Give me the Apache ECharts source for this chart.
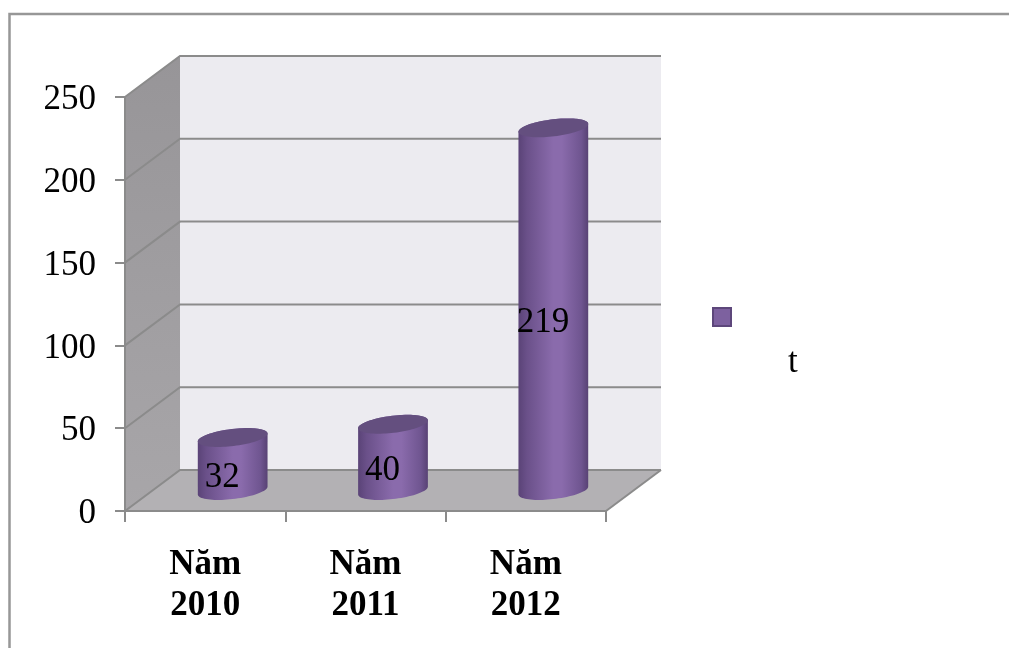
<!DOCTYPE html>
<html><head><meta charset="utf-8">
<style>html,body{margin:0;padding:0;background:#fff}#c{width:1009px;height:648px}</style>
<script src="https://cdn.jsdelivr.net/npm/echarts@6/dist/echarts.min.js"></script>
</head><body><div id="c"></div>
<script>
const categories = ['Năm\n2010', 'Năm\n2011', 'Năm\n2012'];
const values = [32, 40, 219];
const labels = ['32', '40', '219'];
const yTicks = [0, 50, 100, 150, 200, 250];
const seriesName = 't';

const DX = 55, DY = -41;          // 3D depth of the box
const FONT = '"Liberation Serif","Times New Roman",serif';
const LINE = '#8b8b8b';

function ell(cx, cy, a, b, r, t0, t1, n) {
  const pts = [];
  for (let i = 0; i <= n; i++) {
    const t = t0 + (t1 - t0) * i / n;
    pts.push([
      cx + a * Math.cos(t) * Math.cos(r) - b * Math.sin(t) * Math.sin(r),
      cy + a * Math.cos(t) * Math.sin(r) + b * Math.sin(t) * Math.cos(r)
    ]);
  }
  return pts;
}

function renderBox(params, api) {
  const band = api.size([1, 0])[0];
  const o = api.coord([0, 0]);
  const t = api.coord([0, 250]);
  const x0 = o[0] - band / 2, x1 = x0 + band * categories.length;
  const y0 = o[1], y1 = t[1];
  const poly = (points, fill) => ({ type: 'polygon', shape: { points }, style: { fill } });
  return { type: 'group', children: [
    poly([[x0 + DX, y1 + DY], [x1 + DX, y1 + DY], [x1 + DX, y0 + DY], [x0 + DX, y0 + DY]], '#ecebf0'),
    poly([[x0, y1], [x0 + DX, y1 + DY], [x0 + DX, y0 + DY], [x0, y0]],
      new echarts.graphic.LinearGradient(0, 0, 0, 1, [{ offset: 0, color: '#979598' }, { offset: 1, color: '#a8a6a9' }])),
    poly([[x0, y0], [x0 + DX, y0 + DY], [x1 + DX, y0 + DY], [x1, y0]], '#b3b1b4')
  ]};
}

function renderGrid(params, api) {
  const band = api.size([1, 0])[0];
  const p = api.coord([0, api.value(0)]);
  const x0 = p[0] - band / 2, x1 = x0 + band * categories.length, y = p[1];
  const st = { stroke: LINE, lineWidth: 2, fill: null };
  const ch = [
    { type: 'polyline', shape: { points: [[x0, y], [x0 + DX, y + DY], [x1 + DX, y + DY]] }, style: st }
  ];
  if (api.value(0) === 0) {
    ch.push({ type: 'line', shape: { x1: x1, y1: y, x2: x1 + DX, y2: y + DY }, style: st });
  }
  return { type: 'group', children: ch };
}

function renderBar(params, api) {
  const i = api.value(0), v = api.value(1);
  const band = api.size([1, 0])[0];
  const base = api.coord([i, 0]), top = api.coord([i, v]);
  const a = band * 0.219, b = a * 0.243, r = -0.12;
  const cx = base[0] + DX / 2;
  const by = base[1] + DY / 2, ty = top[1] + DY / 2;
  const te = Math.atan2(-b * Math.sin(r), a * Math.cos(r));
  const body = ell(cx, ty, a, b, r, te + Math.PI, te + 2 * Math.PI, 40)
    .concat(ell(cx, by, a, b, r, te, te + Math.PI, 40));
  const grad = new echarts.graphic.LinearGradient(0, 0, 1, 0, [
    { offset: 0, color: '#5a4377' },
    { offset: 0.12, color: '#6a5089' },
    { offset: 0.5, color: '#8a6bac' },
    { offset: 0.62, color: '#8a6bac' },
    { offset: 0.9, color: '#6f5590' },
    { offset: 1, color: '#584274' }
  ]);
  return { type: 'group', children: [
    { type: 'polygon', shape: { points: body }, style: { fill: grad } },
    { type: 'polygon', shape: { points: ell(cx, ty, a, b, r, 0, 2 * Math.PI, 80) },
      style: { fill: '#644f7f' } },
    { type: 'text', x: base[0] + DX * 0.31, y: (base[1] + top[1]) / 2 + DY * 0.245 + 3,
      style: { text: labels[i], fill: '#000', font: '35px ' + FONT, align: 'center', verticalAlign: 'middle' } }
  ]};
}

const chart = echarts.init(document.getElementById('c'), null, { renderer: 'canvas' });
chart.setOption({
  animation: false,
  backgroundColor: '#fff',
  graphic: [{ type: 'rect', silent: true, z: -1,
    shape: { x: 9.5, y: 14, width: 1200, height: 800 },
    style: { fill: null, stroke: '#979797', lineWidth: 2.5 } }],
  grid: { left: 125, top: 97, width: 481, height: 414 },
  legend: {
    data: [seriesName], left: 712, top: 248, itemWidth: 18, itemHeight: 18, itemGap: 0,
    padding: 0, icon: 'rect', selectedMode: false,
    itemStyle: { color: '#7d619f', borderColor: '#5d477b', borderWidth: 2 },
    formatter: n => '\n\n' + n,
    textStyle: { fontFamily: FONT, fontSize: 35, lineHeight: 46, color: '#000', padding: [0, 0, 0, 52] }
  },
  xAxis: {
    type: 'category', data: categories, z: 2,
    axisLine: { lineStyle: { color: LINE, width: 2 } },
    axisTick: { show: true, alignWithLabel: false, length: 11, lineStyle: { color: LINE, width: 2 } },
    axisLabel: { fontFamily: FONT, fontSize: 35, fontWeight: 'bold', color: '#000', lineHeight: 41, margin: 33 }
  },
  yAxis: {
    type: 'value', min: 0, max: 250, interval: 50, z: 2,
    splitLine: { show: false },
    axisLine: { show: true, lineStyle: { color: LINE, width: 2 } },
    axisTick: { show: true, length: 10, lineStyle: { color: LINE, width: 2 } },
    axisLabel: { fontFamily: FONT, fontSize: 35, color: '#000', margin: 29, lineHeight: 6,
      formatter: v => '\n' + v }
  },
  series: [
    { type: 'custom', name: 'box', z: 1, silent: true, renderItem: renderBox, data: [[0]], encode: { x: 0 }, clip: false },
    { type: 'custom', name: 'grid', z: 1, silent: true, renderItem: renderGrid, data: yTicks.map(v => [v]), clip: false },
    { type: 'custom', name: seriesName, z: 3, renderItem: renderBar, clip: false,
      itemStyle: { color: '#7d619f' },
      data: values.map((v, i) => [i, v]), encode: { x: 0, y: 1 } }
  ]
});
</script></body></html>
